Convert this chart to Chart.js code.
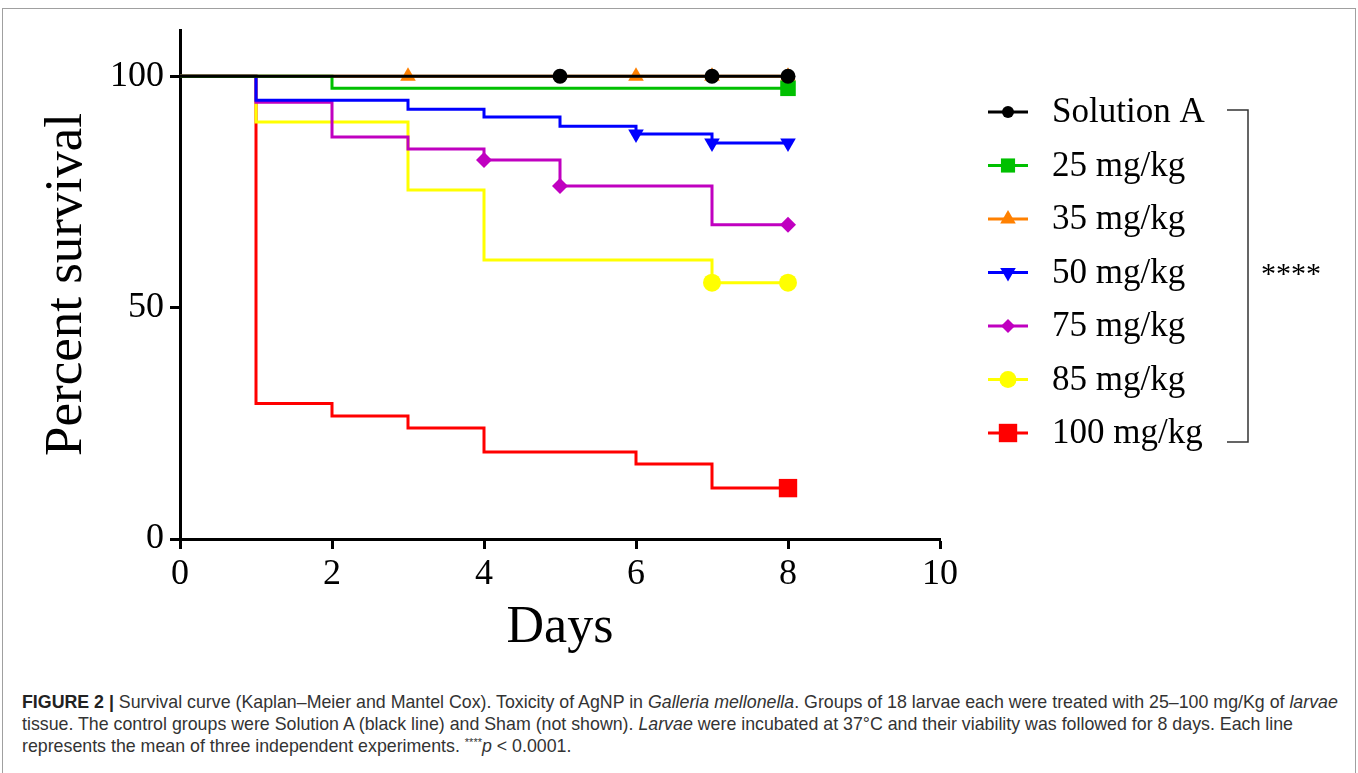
<!DOCTYPE html>
<html>
<head>
<meta charset="utf-8">
<script src="https://cdn.jsdelivr.net/npm/chart.js@4.4.1/dist/chart.umd.min.js"></script>
<style>
html, body { margin: 0; padding: 0; background: #fff; }
body { width: 1358px; height: 773px; overflow: hidden; position: relative; font-family: "Liberation Sans", Arial, sans-serif; }
#frame { position: absolute; left: 2px; top: 8px; width: 1352px; height: 800px; border: 1px solid #a0a0a0; }
#wrap { position: absolute; left: 0; top: 0; width: 1358px; height: 660px; }
#caption { position: absolute; left: 22px; top: 691px; font-size: 17.8px; line-height: 22px; color: #333; white-space: nowrap; }
#caption b { color: #222; }
#caption sup { font-size: 11px; vertical-align: 6px; line-height: 0; }
</style>
</head>
<body>
<div id="frame"></div>
<div id="wrap"><canvas id="grafico"></canvas></div>
<div id="caption"><b>FIGURE 2 |</b> Survival curve (Kaplan–Meier and Mantel Cox). Toxicity of AgNP in <i>Galleria mellonella</i>. Groups of 18 larvae each were treated with 25–100 mg/Kg of <i>larvae</i><br>tissue. The control groups were Solution A (black line) and Sham (not shown). <i>Larvae</i> were incubated at 37°C and their viability was followed for 8 days. Each line<br>represents the mean of three independent experiments. <sup>****</sup><i>p</i> &lt; 0.0001.</div>
<script>
const seriesNames = ['Solution A', '25 mg/kg', '35 mg/kg', '50 mg/kg', '75 mg/kg', '85 mg/kg', '100 mg/kg'];

// survival steps (day of event, percent surviving after it) and days carrying a marker
const daysSolA = [0, 5, 7, 8];
const survSolA = [100, 100, 100, 100];
const marksSolA = [5, 7, 8];

const days25 = [0, 2, 8];
const surv25 = [100, 97.4, 97.4];
const marks25 = [8];

const days35 = [0, 3, 6, 7, 8];
const surv35 = [100, 100, 100, 100, 100];
const marks35 = [3, 6, 7, 8];

const days50 = [0, 1, 3, 4, 5, 6, 7, 8];
const surv50 = [100, 94.8, 92.9, 91.2, 89.2, 87.5, 85.6, 85.6];
const marks50 = [6, 7, 8];

const days75 = [0, 1, 2, 3, 4, 5, 7, 8];
const surv75 = [100, 94.4, 86.9, 84.3, 81.9, 76.3, 67.9, 67.9];
const marks75 = [4, 5, 8];

const days85 = [0, 1, 3, 4, 7, 8];
const surv85 = [100, 90.1, 75.4, 60.3, 55.4, 55.4];
const marks85 = [7, 8];

const days100 = [0, 1, 2, 3, 4, 6, 7, 8];
const surv100 = [100, 29.3, 26.6, 24.0, 18.8, 16.2, 11.0, 11.0];
const marks100 = [8];

const xTicks = [0, 2, 4, 6, 8, 10];
const yTicks = [0, 50, 100];

const daysList = [daysSolA, days25, days35, days50, days75, days85, days100];
const survList = [survSolA, surv25, surv35, surv50, surv75, surv85, surv100];
const marksList = [marksSolA, marks25, marks35, marks50, marks75, marks85, marks100];

const colors = ['#000000', '#00c000', '#ff8000', '#0000ff', '#c000c0', '#ffff00', '#ff0000'];
const pointStyles = ['circle', 'rect', 'triangle', 'triangle', 'rectRot', 'circle', 'rect'];
const pointRotations = [0, 0, 0, 180, 0, 0, 0];
const pointSizes = [7.5, 11, 9, 9, 8, 9, 13];
const legendSizes = [6, 10, 9, 9, 7, 8.5, 13];

const serif = '"Liberation Serif", "Times New Roman", serif';

const datasets = seriesNames.map((name, i) => ({
    label: name,
    data: daysList[i].map((d, j) => ({ x: d, y: survList[i][j] })),
    borderColor: colors[i],
    backgroundColor: colors[i],
    borderWidth: 3,
    stepped: true,
    fill: false,
    pointStyle: pointStyles[i],
    pointRotation: pointRotations[i],
    pointRadius: ctx => (ctx.raw && marksList[i].includes(ctx.raw.x)) ? pointSizes[i] : 0,
    pointBorderWidth: 0,
    pointHoverRadius: 0
}));

// legend on the right with line + marker, plus the significance bracket
const sideLegend = {
    id: 'sideLegend',
    afterDraw(chart) {
        const ctx = chart.ctx;
        ctx.save();
        const top = 112, step = 53.5;
        seriesNames.forEach((name, i) => {
            const y = top + i * step;
            ctx.strokeStyle = colors[i];
            ctx.lineWidth = 3;
            ctx.beginPath();
            ctx.moveTo(988, y);
            ctx.lineTo(1028, y);
            ctx.stroke();
            ctx.fillStyle = colors[i];
            Chart.helpers.drawPoint(ctx, {
                pointStyle: pointStyles[i], rotation: pointRotations[i],
                radius: legendSizes[i], borderWidth: 0
            }, 1008, y);
            ctx.fillStyle = '#000';
            ctx.font = '35px ' + serif;
            ctx.textBaseline = 'middle';
            ctx.textAlign = 'left';
            ctx.fillText(name, 1052, y + 1);
        });
        ctx.strokeStyle = '#333';
        ctx.lineWidth = 1.5;
        ctx.beginPath();
        ctx.moveTo(1227, 110);
        ctx.lineTo(1248, 110);
        ctx.lineTo(1248, 442);
        ctx.lineTo(1227, 442);
        ctx.stroke();
        ctx.fillStyle = '#000';
        ctx.font = '30px ' + serif;
        ctx.textBaseline = 'alphabetic';
        ctx.fillText('****', 1261, 283);
        ctx.restore();
    }
};

new Chart(document.getElementById('grafico'), {
    type: 'line',
    data: { datasets: datasets },
    options: {
        responsive: true,
        maintainAspectRatio: false,
        animation: false,
        layout: { padding: { left: 0, right: 418, top: 30, bottom: 0 } },
        plugins: { legend: { display: false }, tooltip: { enabled: false } },
        scales: {
            x: {
                type: 'linear', min: 0, max: 10,
                afterBuildTicks: s => { s.ticks = xTicks.map(v => ({ value: v })); },
                afterFit: s => { s.height = 121; },
                border: { display: true, color: '#000', width: 3 },
                grid: { drawOnChartArea: false, drawTicks: true, tickLength: 10, tickWidth: 3, tickColor: '#000' },
                ticks: { color: '#000', font: { family: serif, size: 36 }, padding: 4, maxRotation: 0 },
                title: { display: true, text: 'Days', color: '#000', font: { family: serif, size: 52, lineHeight: 1 }, padding: { top: 0, bottom: 6 } }
            },
            y: {
                type: 'linear', min: 0, max: 110,
                afterBuildTicks: s => { s.ticks = yTicks.map(v => ({ value: v })); },
                afterFit: s => { s.width = 180; },
                border: { display: true, color: '#000', width: 3 },
                grid: { drawOnChartArea: false, drawTicks: true, tickLength: 10, tickWidth: 3, tickColor: '#000' },
                ticks: { color: '#000', font: { family: serif, size: 36 }, padding: 6 },
                title: { display: true, text: 'Percent survival', color: '#000', font: { family: serif, size: 53, lineHeight: 1 }, padding: { top: 41, bottom: 0 } }
            }
        }
    },
    plugins: [sideLegend]
});
</script>
</body>
</html>
